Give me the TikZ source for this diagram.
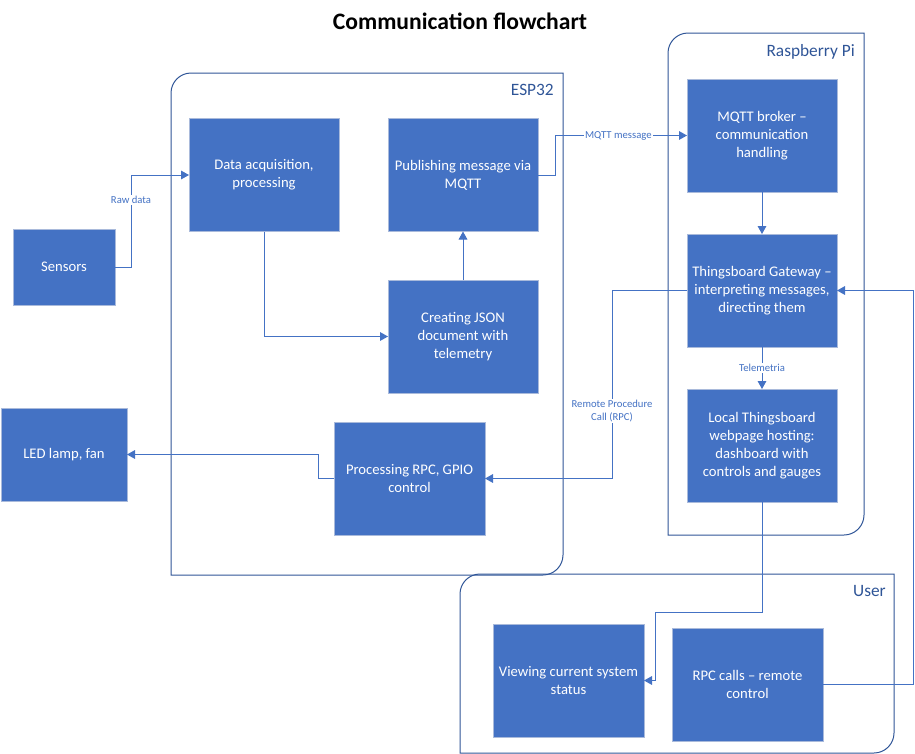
\documentclass[tikz,border=0pt]{standalone}
\usepackage{fontspec}
\setmainfont{Carlito}
\usetikzlibrary{arrows.meta}
\definecolor{boxblue}{HTML}{4472C4}
\definecolor{boxedge}{HTML}{A9BADB}
\definecolor{contblue}{HTML}{2F5597}
\definecolor{lineblue}{HTML}{4472C4}
\begin{document}
\begin{tikzpicture}[x=0.75pt,y=-0.75pt,
 box/.style={rectangle, fill=boxblue, draw=boxedge, line width=0.75pt, text=white, align=center,
   font=\fontsize{11}{13.5}\selectfont, inner sep=0pt, outer sep=0pt,
   minimum width=112.5pt, minimum height=84.75pt},
 conn/.style={draw=lineblue, line width=0.75pt, -{Triangle[length=6pt,width=6.5pt]}},
 lbl/.style={fill=white, text=lineblue, font=\fontsize{8}{9.5}\selectfont, inner sep=1pt, align=center},
 contlbl/.style={text=contblue, font=\fontsize{13}{15}\selectfont, inner sep=0pt, anchor=base east},
 cont/.style={draw=contblue, line width=0.75pt}]

\useasboundingbox (0,0) rectangle (915,754);

% title
\node[font=\bfseries\fontsize{17.7}{20}\selectfont, anchor=base, inner sep=0pt] (title) at (460,29.5) {Communication flowchart};

% containers
\draw[cont] (171,575) -- (171,93) .. controls (171,82) and (180,73) .. (191,73) -- (563,73) -- (563,555) .. controls (563,566) and (554,575) .. (543,575) -- cycle;
\draw[cont] (668,535) -- (668,53) .. controls (668,42) and (677,33) .. (688,33) -- (864,33) -- (864,515) .. controls (864,526) and (855,535) .. (844,535) -- cycle;
\draw[cont] (460,753) -- (460,594) .. controls (460,583) and (469,574) .. (480,574) -- (894,574) -- (894,733) .. controls (894,744) and (885,753) .. (874,753) -- cycle;
\node[contlbl] (esplbl) at (554,95.5) {ESP32};
\node[contlbl] (rpilbl) at (855,56.5) {Raspberry Pi};
\node[contlbl] (userlbl) at (886,596.5) {User};

% boxes
\node[box, minimum width=76.5pt, minimum height=57pt] (sensors) at (64,267) {Sensors};
\node[box] (acq) at (264,175) {Data acquisition,\\processing};
\node[box] (pub) at (463,175) {Publishing message via\\MQTT};
\node[box] (json) at (463,336.5) {Creating JSON\\document with\\telemetry};
\node[box, minimum width=113.25pt] (proc) at (409.5,478.5) {Processing RPC, GPIO\\control};
\node[box, minimum width=94.5pt, minimum height=69.75pt] (led) at (64,454.5) {LED lamp, fan};
\node[box] (mqtt) at (762,135.5) {MQTT broker –\\communication\\handling};
\node[box] (gw) at (762,290.5) {Thingsboard Gateway –\\interpreting messages,\\directing them};
\node[box] (local) at (762,445.5) {Local Thingsboard\\webpage hosting:\\dashboard with\\controls and gauges};
\node[box, minimum width=113.25pt] (view) at (568.5,680.5) {Viewing current system\\status};
\node[box, minimum width=113.25pt] (rpcc) at (747.5,684.5) {RPC calls – remote\\control};

\coordinate (c9) at (655,612);

% connectors
\draw[conn] (sensors.east) -- ++(16,0) |- node[lbl, pos=0.365] {Raw data} (acq.west);
\draw[conn] (acq.south) |- (json.west);
\draw[conn] (json.north) -- (pub.south);
\draw[conn] (pub.east) -- ++(17,0) |- node[lbl, pos=0.74] {MQTT message} (mqtt.west);
\draw[conn] (mqtt.south) -- (gw.north);
\draw[conn] (gw.south) -- node[lbl] {Telemetria} (local.north);
\draw[conn] (gw.west) -- ++(-75,0) |- node[lbl, pos=0.32] {Remote Procedure\\Call (RPC)} (proc.east);
\draw[conn] (proc.west) -- ++(-16,0) |- (led.east);
\draw[conn] (local.south) |- (c9) |- (view.east);
\draw[conn] (rpcc.east) -- ++(90,0) |- (gw.east);
\end{tikzpicture}
\end{document}
